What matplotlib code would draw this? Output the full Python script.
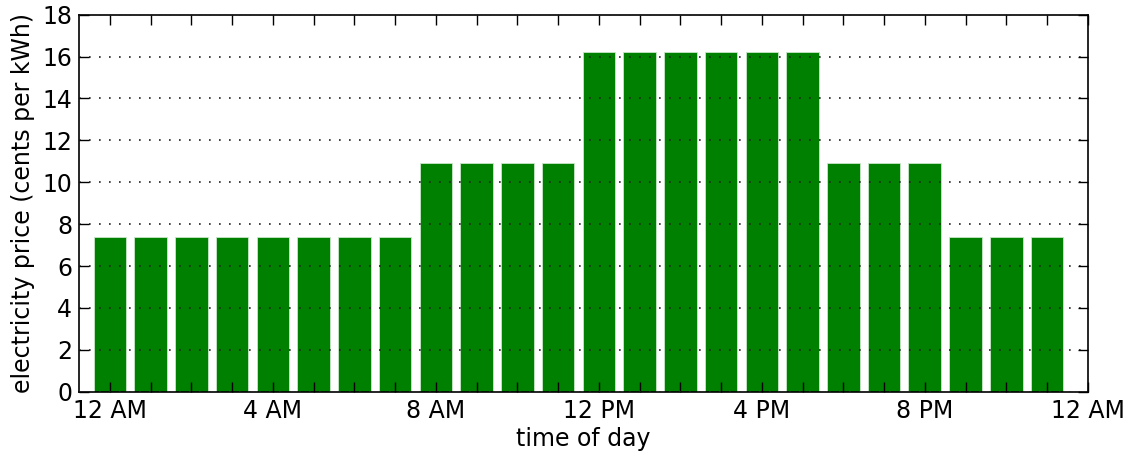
import matplotlib
matplotlib.use("Agg")
import matplotlib.pyplot as plt

hours = list(range(24))
prices = [7.4]*8 + [10.9]*4 + [16.2]*6 + [10.9]*3 + [7.4]*3
tick_positions = [0, 4, 8, 12, 16, 20, 24]
tick_labels = ["12 AM", "4 AM", "8 AM", "12 PM", "4 PM", "8 PM", "12 AM"]

plt.rcParams['font.family'] = ['DejaVu Sans']
fig = plt.figure(figsize=(11.3, 4.57), dpi=100)
ax = fig.add_axes([0.0699, 0.1429, 0.8927, 0.8249])

ax.bar(hours, prices, width=0.8, color='#008000', edgecolor='#c8e6c8', linewidth=0.6, zorder=1)
ax.set_xlim(-0.76, 24)
ax.set_ylim(0, 18)
ax.set_yticks(range(0, 19, 2))
ax.set_xticks(hours + [24])
ax.set_xticklabels([tick_labels[tick_positions.index(h)] if h in tick_positions else "" for h in hours + [24]])
ax.yaxis.grid(True, linestyle=(0, (1, 5)), color='#222222', linewidth=1.2, zorder=3)
ax.set_axisbelow(False)
ax.tick_params(direction='in', length=7, width=1, top=True, right=True, labelsize=17, pad=5, colors='black')
for s in ax.spines.values():
    s.set_linewidth(1.2)
ax.set_xlabel("time of day", fontsize=17, labelpad=3)
ax.set_ylabel("electricity price (cents per kWh)", fontsize=17, labelpad=5)

fig.savefig("out.png", dpi=100)
